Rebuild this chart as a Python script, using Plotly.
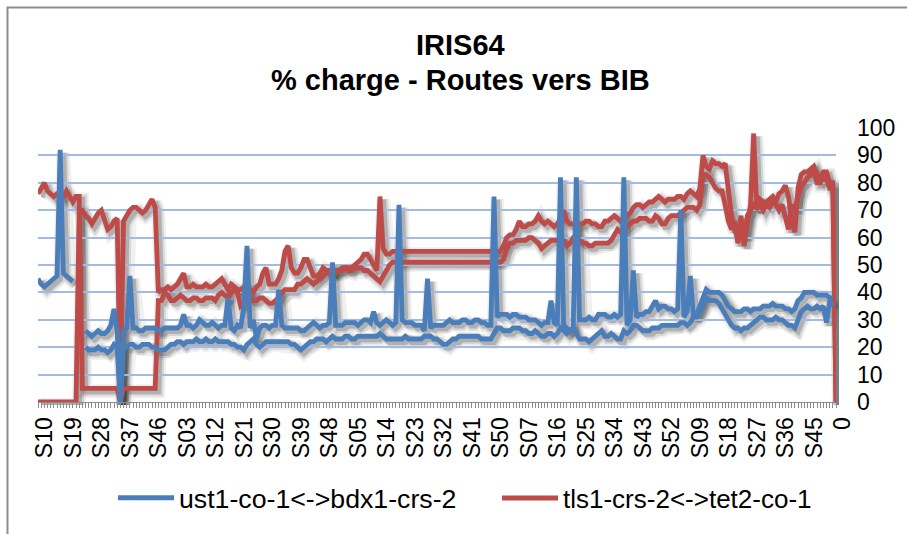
import plotly.graph_objects as go

# Week labels shown on the category axis (one every 9 weeks)
tick_labels = ["S10", "S19", "S28", "S37", "S46", "S03", "S12", "S21", "S30", "S39",
               "S48", "S05", "S14", "S23", "S32", "S41", "S50", "S07", "S16", "S25",
               "S34", "S43", "S52", "S09", "S18", "S27", "S36", "S45", "0"]
label_step = 9

# Load (%) per week - ust1-co-1<->bdx1-crs-2, both directions
ust_a = [45, 43, 42, 43, 44, 45, 46, 92, 47, 46, 45, 44, None, None, None,
         26, 25, 24, 25, 26, 25, 25, 26, 28, 34, 26,
         0,
         26, 27, 46, 27, 27, 26, 26, 27, 27, 27,
         27, 26, 26, 27, 27, 27, 27, 27, 28, 32,
         28, 28, 27, 28, 30, 29, 28, 28, 29, 28,
         27, 28, 28, 38,
         27, 26, 28, 27, 35, 57, 27, 30, 23, 27,
         28, 28, 27, 28, 28, 41, 28, 27, 27, 27,
         27, 27, 26, 26, 27, 28, 29, 28, 27, 28,
         28, 29, 51, 28, 28, 28, 29, 29, 29, 29,
         28, 29, 30, 30, 29, 33, 29, 28, 29, 30,
         29, 28, 29, 72, 30, 29, 29, 29, 28,
         28, 28, 26, 45, 27, 28, 28, 28, 28, 29,
         30, 29, 29, 29, 30, 30, 29, 29, 30, 30,
         29, 29, 28, 28, 75, 31, 32, 32, 32, 31,
         32, 32, 31, 31, 31, 30, 30, 30, 29, 28,
         29, 29, 37, 29, 28, 82, 28, 27, 26, 27,
         82, 30, 30, 30, 31, 30, 30, 32, 32, 32,
         31,
         31, 32, 31, 32, 82, 28, 30, 48, 31, 32,
         32, 33, 33, 35, 37, 34, 35, 35, 34, 34,
         33, 34, 70, 31, 33, 46, 31, 32, 35, 38,
         41, 40, 40, 40, 40, 39, 37, 35, 34, 33,
         33, 33, 34, 34, 33, 34, 34, 34, 35, 35,
         35, 36, 35, 35, 35, 34, 34, 33, 34, 37,
         38, 40, 40, 40, 40, 39, 39, 39, 39, 38,
         38, None]

ust_b = [None, None, None, None, None, None, None, None, None, None, None, None, None, None, None,
         20, 19, 19, 19, 20, 19, 19, 18, 19, 21, 20,
         0,
         20, 20, 21, 21, 20, 20, 21, 21, 21, 20,
         20, 19, 19, 19, 20, 21, 21, 22, 22, 21,
         22, 22, 22, 23, 22, 22, 23, 22, 22, 23,
         22, 22, 22, 22,
         21, 21, 20, 20, 19, 21, 22, 23, 21, 20,
         21, 22, 22, 22, 22, 22, 22, 22, 22, 21,
         21, 20, 19, 20, 21, 22, 22, 23, 23, 23,
         22, 23, 24, 23, 23, 23, 24, 24, 23, 23,
         24, 24, 24, 24, 24, 24, 24, 25, 24, 23,
         23, 23, 23, 23, 23, 24, 23, 23, 23,
         23, 23, 24, 24, 24, 23, 23, 22, 21, 21,
         22, 23, 23, 24, 24, 24, 24, 24, 24, 24,
         23, 23, 23, 23, 25, 27, 27, 26, 26, 26,
         27, 27, 27, 26, 26, 25, 25, 26, 25, 24,
         24, 25, 25, 24, 25, 27, 26, 25, 26, 27,
         25, 23, 23, 23, 22, 23, 24, 25, 26, 24,
         24,
         25, 24, 23, 23, 26, 25, 26, 28, 28, 27,
         26, 26, 26, 27, 27, 27, 28, 28, 28, 28,
         28, 28, 29, 29, 28, 29, 31, 31, 33, 35,
         38, 37, 37, 37, 36, 34, 32, 30, 28, 27,
         27, 26, 27, 27, 28, 29, 30, 31, 31, 30,
         30, 30, 31, 30, 30, 29, 28, 28, 27, 30,
         33, 34, 35, 34, 34, 35, 34, 35, 29, 37,
         35, None]

# Load (%) per week - tls1-crs-2<->tet2-co-1, both directions
tls_a = [76, 78, 80, 77, 76, 75, 76, 76, 75, 77, 75, 73, 75, 75,
         5, 5, 5, 5, 5, 5, 5, 5, 5, 5, 5, 5,
         0,
         5, 5, 5, 5, 5, 5, 5, 5, 5, 5, 5,
         37,
         37, 40, 39, 37, 37, 38, 39, 38, 37, 37,
         38, 38, 37, 37, 38, 38, 38, 37, 39, 40,
         39, 38,
         40, 41, 40, 35, 36, 38, 38, 37, 37, 38,
         38, 37, 36, 36, 37, 38, 40, 41, 41, 41,
         41, 43, 43, 44, 45, 44, 43, 44, 45, 46,
         47, 47, 47, 48, 48, 49, 49, 48, 48, 49,
         49, 49, 48, 48, 47, 46, 45, 44, 46, 48,
         50, 51, 51,
         51, 51, 51, 51, 51, 51, 51, 51, 51, 51,
         51, 51, 51, 51, 51, 51, 51, 51, 51, 51,
         51, 51, 51, 51, 51, 51, 51, 51, 51, 51,
         51, 51, 51,
         52, 56, 58, 58, 59, 59, 59, 59, 60, 60,
         59, 58, 56, 57, 58, 59, 59, 59, 60, 59,
         57, 58, 60, 61, 59, 58, 58, 57, 57, 58,
         58, 58, 58, 58,
         59, 61, 63, 62, 63, 64, 65, 66, 66, 67,
         67, 67, 66, 66, 68, 67, 65, 65, 67, 68,
         68, 68, 69, 70, 71, 71, 71, 70, 72, 83,
         83, 82, 80, 78, 77, 77, 72, 66, 63, 66,
         58, 62, 60, 68, 70, 72, 71, 72, 70, 72,
         71, 73, 72, 70, 72, 68, 63, 72, 70, 75,
         79, 80, 82, 83, 84, 80, 80, 82, 81, 78,
         78, 0]

tls_b = [0, 0, 0, 0, 0, 0, 0, 0, 0, 0, 0, 0, 0,
         70, 70, 68, 67, 65, 67, 69, 70, 66, 63, 64, 66, 67,
         0,
         66, 68, 70, 71, 71, 70, 69, 70, 72, 74, 71,
         40,
         41, 41, 42, 41, 42, 43, 45, 47, 42, 42,
         43, 42, 42, 42, 43, 42, 42, 43, 44, 45,
         43, 41,
         43, 42, 41, 41, 42, 42, 41, 40, 42, 43,
         47, 49, 43, 43, 43, 45, 48, 55, 57, 49,
         47, 47, 49, 52, 52, 49, 46, 46, 47, 49,
         48, 48, 47, 47, 48, 48, 49, 49, 49, 50,
         51, 52, 54, 54, 52, 50, 48, 75, 56, 54,
         54, 55, 55,
         55, 55, 55, 55, 55, 55, 55, 55, 55, 55,
         55, 55, 55, 55, 55, 55, 55, 55, 55, 55,
         55, 55, 55, 55, 55, 55, 55, 55, 55, 55,
         55, 55, 55,
         57, 60, 61, 61, 63, 66, 64, 64, 65, 65,
         66, 68, 66, 65, 66, 65, 64, 65, 67, 70,
         66, 65, 65, 64, 65, 65, 66, 66, 65, 65,
         64, 64, 66, 66,
         67, 68, 67, 66, 67, 68, 69, 71, 72, 72,
         71, 72, 73, 73, 74, 75, 74, 73, 74, 74,
         74, 75, 75, 74, 76, 77, 76, 75, 78, 90,
         86, 85, 88, 87, 87, 86, 87, 78, 68, 63,
         60, 68, 57, 65, 72, 98, 70, 74, 73, 73,
         74, 75, 73, 76, 77, 79, 75, 66, 62, 78,
         83, 84, 84, 85, 86, 83, 82, 84, 84, 80,
         80, 0]

series_names = ["ust1-co-1<->bdx1-crs-2", "tls1-crs-2<->tet2-co-1"]
BLUE = "#4A7EBB"
RED = "#BE4B48"
GREY = "#8C8C8C"
FONT = "Liberation Sans, Arial, sans-serif"

n = len(tls_a)
x = list(range(n))

# pixel geometry of the figure
W, H = 907, 534
ML, MR, MT, MB = 38, 67, 128, 128
PW, PH = W - ML - MR, H - MT - MB
SX, SY = 3, 3          # drop-shadow offset in px


def px_x(p):
    return (p - ML) / PW


def px_y(p):
    return (H - MB - p) / PH


fig = go.Figure()

# red series first, blue on top
series = [(tls_a, RED), (tls_b, RED), (ust_a, BLUE), (ust_b, BLUE)]

# soft drop shadow: same data on an offset copy of the axes (x / y, drawn underneath)
for vals, _ in series:
    for w, a in ((14, 0.07), (10, 0.12), (6, 0.22)):
        fig.add_trace(go.Scatter(x=x, y=vals, mode="lines", xaxis="x", yaxis="y",
                                 line=dict(color=f"rgba(40,40,40,{a})", width=w),
                                 hoverinfo="skip", showlegend=False))

# the load curves on the visible axes (x2 / y2)
for vals, col in series:
    fig.add_trace(go.Scatter(x=x, y=vals, mode="lines", xaxis="x2", yaxis="y2",
                             line=dict(color=col, width=4.8), showlegend=False))

# legend entries, one legend box per link
for col, name, leg in ((BLUE, series_names[0], "legend"),
                       (RED, series_names[1], "legend2")):
    fig.add_trace(go.Scatter(x=[None], y=[None], mode="lines", name=name,
                             xaxis="x2", yaxis="y2", legend=leg,
                             line=dict(color=col, width=5)))

title_font = dict(size=29, family=FONT, color="black")
legend_style = dict(orientation="h", y=px_y(498), xanchor="left", yanchor="middle",
                    itemwidth=56, bgcolor="rgba(0,0,0,0)")

fig.update_layout(
    width=W, height=H,
    margin=dict(l=ML, r=MR, t=MT, b=MB, pad=0),
    paper_bgcolor="white", plot_bgcolor="rgba(0,0,0,0)",
    font=dict(family=FONT, color="black"),
    xaxis=dict(domain=[SX / PW, (PW - 4 + SX) / PW], range=[0, n - 1],
               visible=False, anchor="y"),
    yaxis=dict(domain=[(4 - SY) / PH, 1 - SY / PH], range=[0, 100],
               visible=False, anchor="x"),
    xaxis2=dict(domain=[0, (PW - 4) / PW], range=[0, n - 1], anchor="y2",
                tickmode="array",
                tickvals=list(range(0, n, label_step)), ticktext=tick_labels,
                tickangle=-90, tickfont=dict(size=23, family=FONT),
                ticklabelshift=7,
                ticks="outside", ticklen=5, tickcolor=GREY,
                minor=dict(dtick=1, ticks="outside", ticklen=5, tickcolor=GREY),
                showline=True, linecolor=GREY, linewidth=1,
                showgrid=False, zeroline=False),
    yaxis2=dict(domain=[4 / PH, 1], range=[0, 100], dtick=10, side="right",
                anchor="x2",
                tickfont=dict(size=23, family=FONT),
                showgrid=True, gridcolor="#A3BBE3", gridwidth=1.5,
                zeroline=False, showline=False, ticks="",
                ticklabelstandoff=20),
    legend=dict(x=px_x(113), font=dict(size=26.7, family=FONT), **legend_style),
    legend2=dict(x=px_x(497), font=dict(size=26, family=FONT), **legend_style),
    annotations=[
        dict(text="<b>IRIS64</b>", xref="paper", yref="paper",
             x=px_x(461), y=px_y(45), xanchor="center", yanchor="middle",
             showarrow=False, font=title_font),
        dict(text="<b>% charge - Routes vers BIB</b>", xref="paper", yref="paper",
             x=px_x(461), y=px_y(80), xanchor="center", yanchor="middle",
             showarrow=False, font=title_font),
    ],
    shapes=[dict(type="rect", xref="paper", yref="paper",
                 x0=px_x(7.5), x1=px_x(930), y0=px_y(7.5), y1=px_y(560),
                 line=dict(color=GREY, width=2), layer="below")],
)

fig.write_html("out.html")
